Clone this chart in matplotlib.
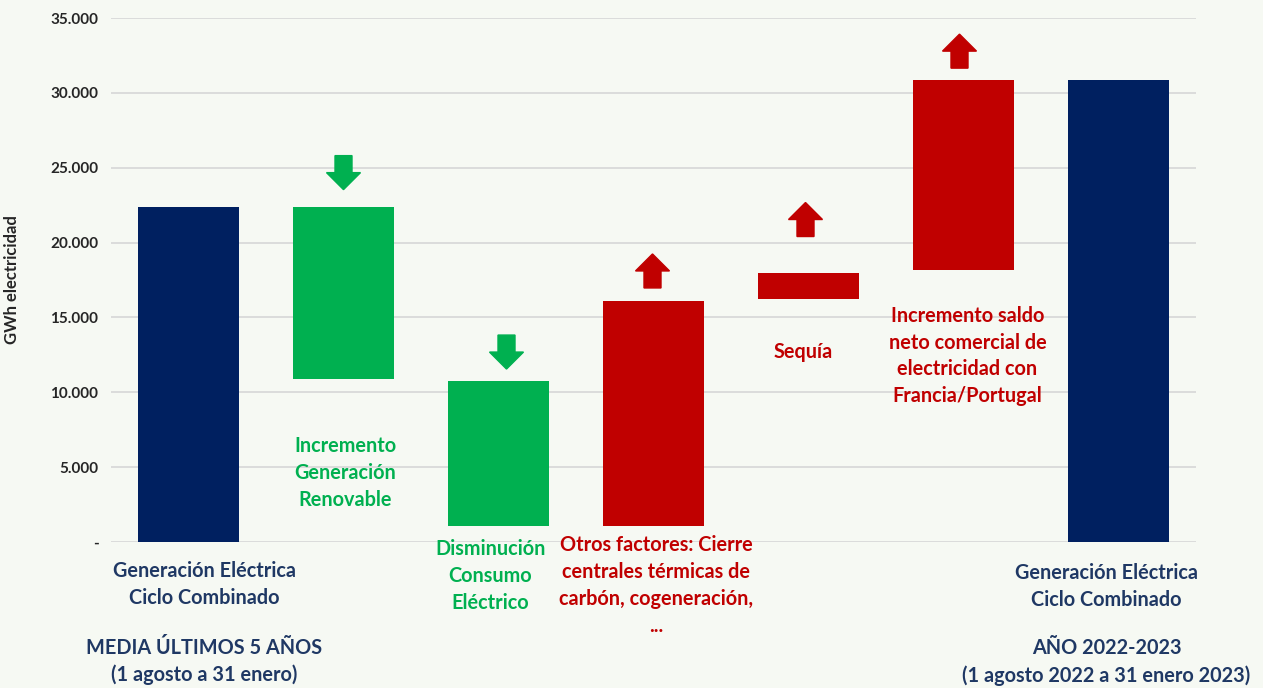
import matplotlib.pyplot as plt
import numpy as np

# waterfall data (GWh)
categories = ["Media 5 años", "Renovable", "Consumo", "Otros factores",
              "Sequía", "Saldo Francia/Portugal", "Año 2022-2023"]
bar_bottom = [0, 10900, 1050, 1050, 16200, 18150, 0]
bar_top = [22400, 22400, 10750, 16100, 18000, 30850, 30850]
arrow_dir = [None, "down", "down", "up", "up", "up", None]

yticks = [0, 5000, 10000, 15000, 20000, 25000, 30000, 35000]
ytick_labels = ["-", "5.000", "10.000", "15.000", "20.000", "25.000", "30.000", "35.000"]

NAVY = "#002060"
GREEN = "#00B050"
RED = "#C00000"
NAVY_TXT = "#1F3864"
BG = "#F6F9F3"
bar_colors = [NAVY, GREEN, GREEN, RED, RED, RED, NAVY]

plt.rcParams["font.family"] = ["Lato", "DejaVu Sans"]

fig = plt.figure(figsize=(12.63, 6.88), dpi=100, facecolor=BG)
ax = fig.add_axes([111/1263, 1-542/688, (1196-111)/1263, (542-18)/688])
ax.set_facecolor(BG)

x = np.arange(len(categories))
heights = np.array(bar_top) - np.array(bar_bottom)
ax.bar(x, heights, bottom=bar_bottom, width=0.65, color=bar_colors, zorder=3)

ax.set_xlim(-0.5, 6.5)
ax.set_ylim(0, 35000)
ax.set_yticks(yticks)
ax.set_yticklabels(ytick_labels, fontsize=11, fontweight="bold", color="#262626")
ax.set_xticks([])
ax.tick_params(axis="y", length=0, pad=9)
ax.grid(axis="y", color="#D9D9D9", lw=1.3, zorder=0)
for s in ax.spines.values():
    s.set_visible(False)
ax.set_ylabel("GWh electricidad", fontsize=12, fontweight="bold", color="#262626")
ax.yaxis.set_label_coords(-0.084, 0.5)

# arrows above the variation bars
py = 35000 / 524   # data units per pixel (vertical)
px = 1 / 155       # data units per pixel (horizontal)
arrow_gap = [0, 17, 12, 13, 36, 12, 0]
arrow_dx = [0, 0, 8, -1, -3, -4, 0]
for i, d in enumerate(arrow_dir):
    if d is None:
        continue
    xc = x[i] + arrow_dx[i] * px
    y0 = bar_top[i] + arrow_gap[i] * py
    sw, hw = 8.5 * px, 17 * px
    hl, tot = 17 * py, 34 * py
    if d == "up":
        pts = [(xc - sw, y0), (xc + sw, y0), (xc + sw, y0 + tot - hl),
               (xc + hw, y0 + tot - hl), (xc, y0 + tot), (xc - hw, y0 + tot - hl),
               (xc - sw, y0 + tot - hl)]
    else:
        pts = [(xc - sw, y0 + tot), (xc + sw, y0 + tot), (xc + sw, y0 + hl),
               (xc + hw, y0 + hl), (xc, y0), (xc - hw, y0 + hl), (xc - sw, y0 + hl)]
    pts = np.array(pts)
    ax.fill(pts[:, 0], pts[:, 1], color=bar_colors[i], zorder=3, clip_on=False)

# texts
fs = 14.3
def label(i, dx, yv, s, color):
    ax.text(x[i] + dx * px, yv, s, ha="center", va="center", fontsize=fs,
            fontweight="bold", color=color, linespacing=1.43, clip_on=False)

label(0, 16, -2840, "Generación Eléctrica\nCiclo Combinado", NAVY_TXT)
label(0, 16, -7980, "MEDIA ÚLTIMOS 5 AÑOS\n(1 agosto a 31 enero)", NAVY_TXT)
label(1, 2, 4610, "Incremento\nGeneración\nRenovable", GREEN)
label(2, -8, -2270, "Disminución\nConsumo\nEléctrico", GREEN)
label(3, 3, -2900, "Otros factores: Cierre\ncentrales térmicas de\ncarbón, cogeneración,\n...", RED)
label(4, -5, 12690, "Sequía", RED)
label(5, 4, 12420, "Incremento saldo\nneto comercial de\nelectricidad con\nFrancia/Portugal", RED)
label(6, -12, -2970, "Generación Eléctrica\nCiclo Combinado", NAVY_TXT)
label(6, -12, -8010, "AÑO 2022-2023\n(1 agosto 2022 a 31 enero 2023)", NAVY_TXT)

fig.savefig("out.png", dpi=100, facecolor=BG)
